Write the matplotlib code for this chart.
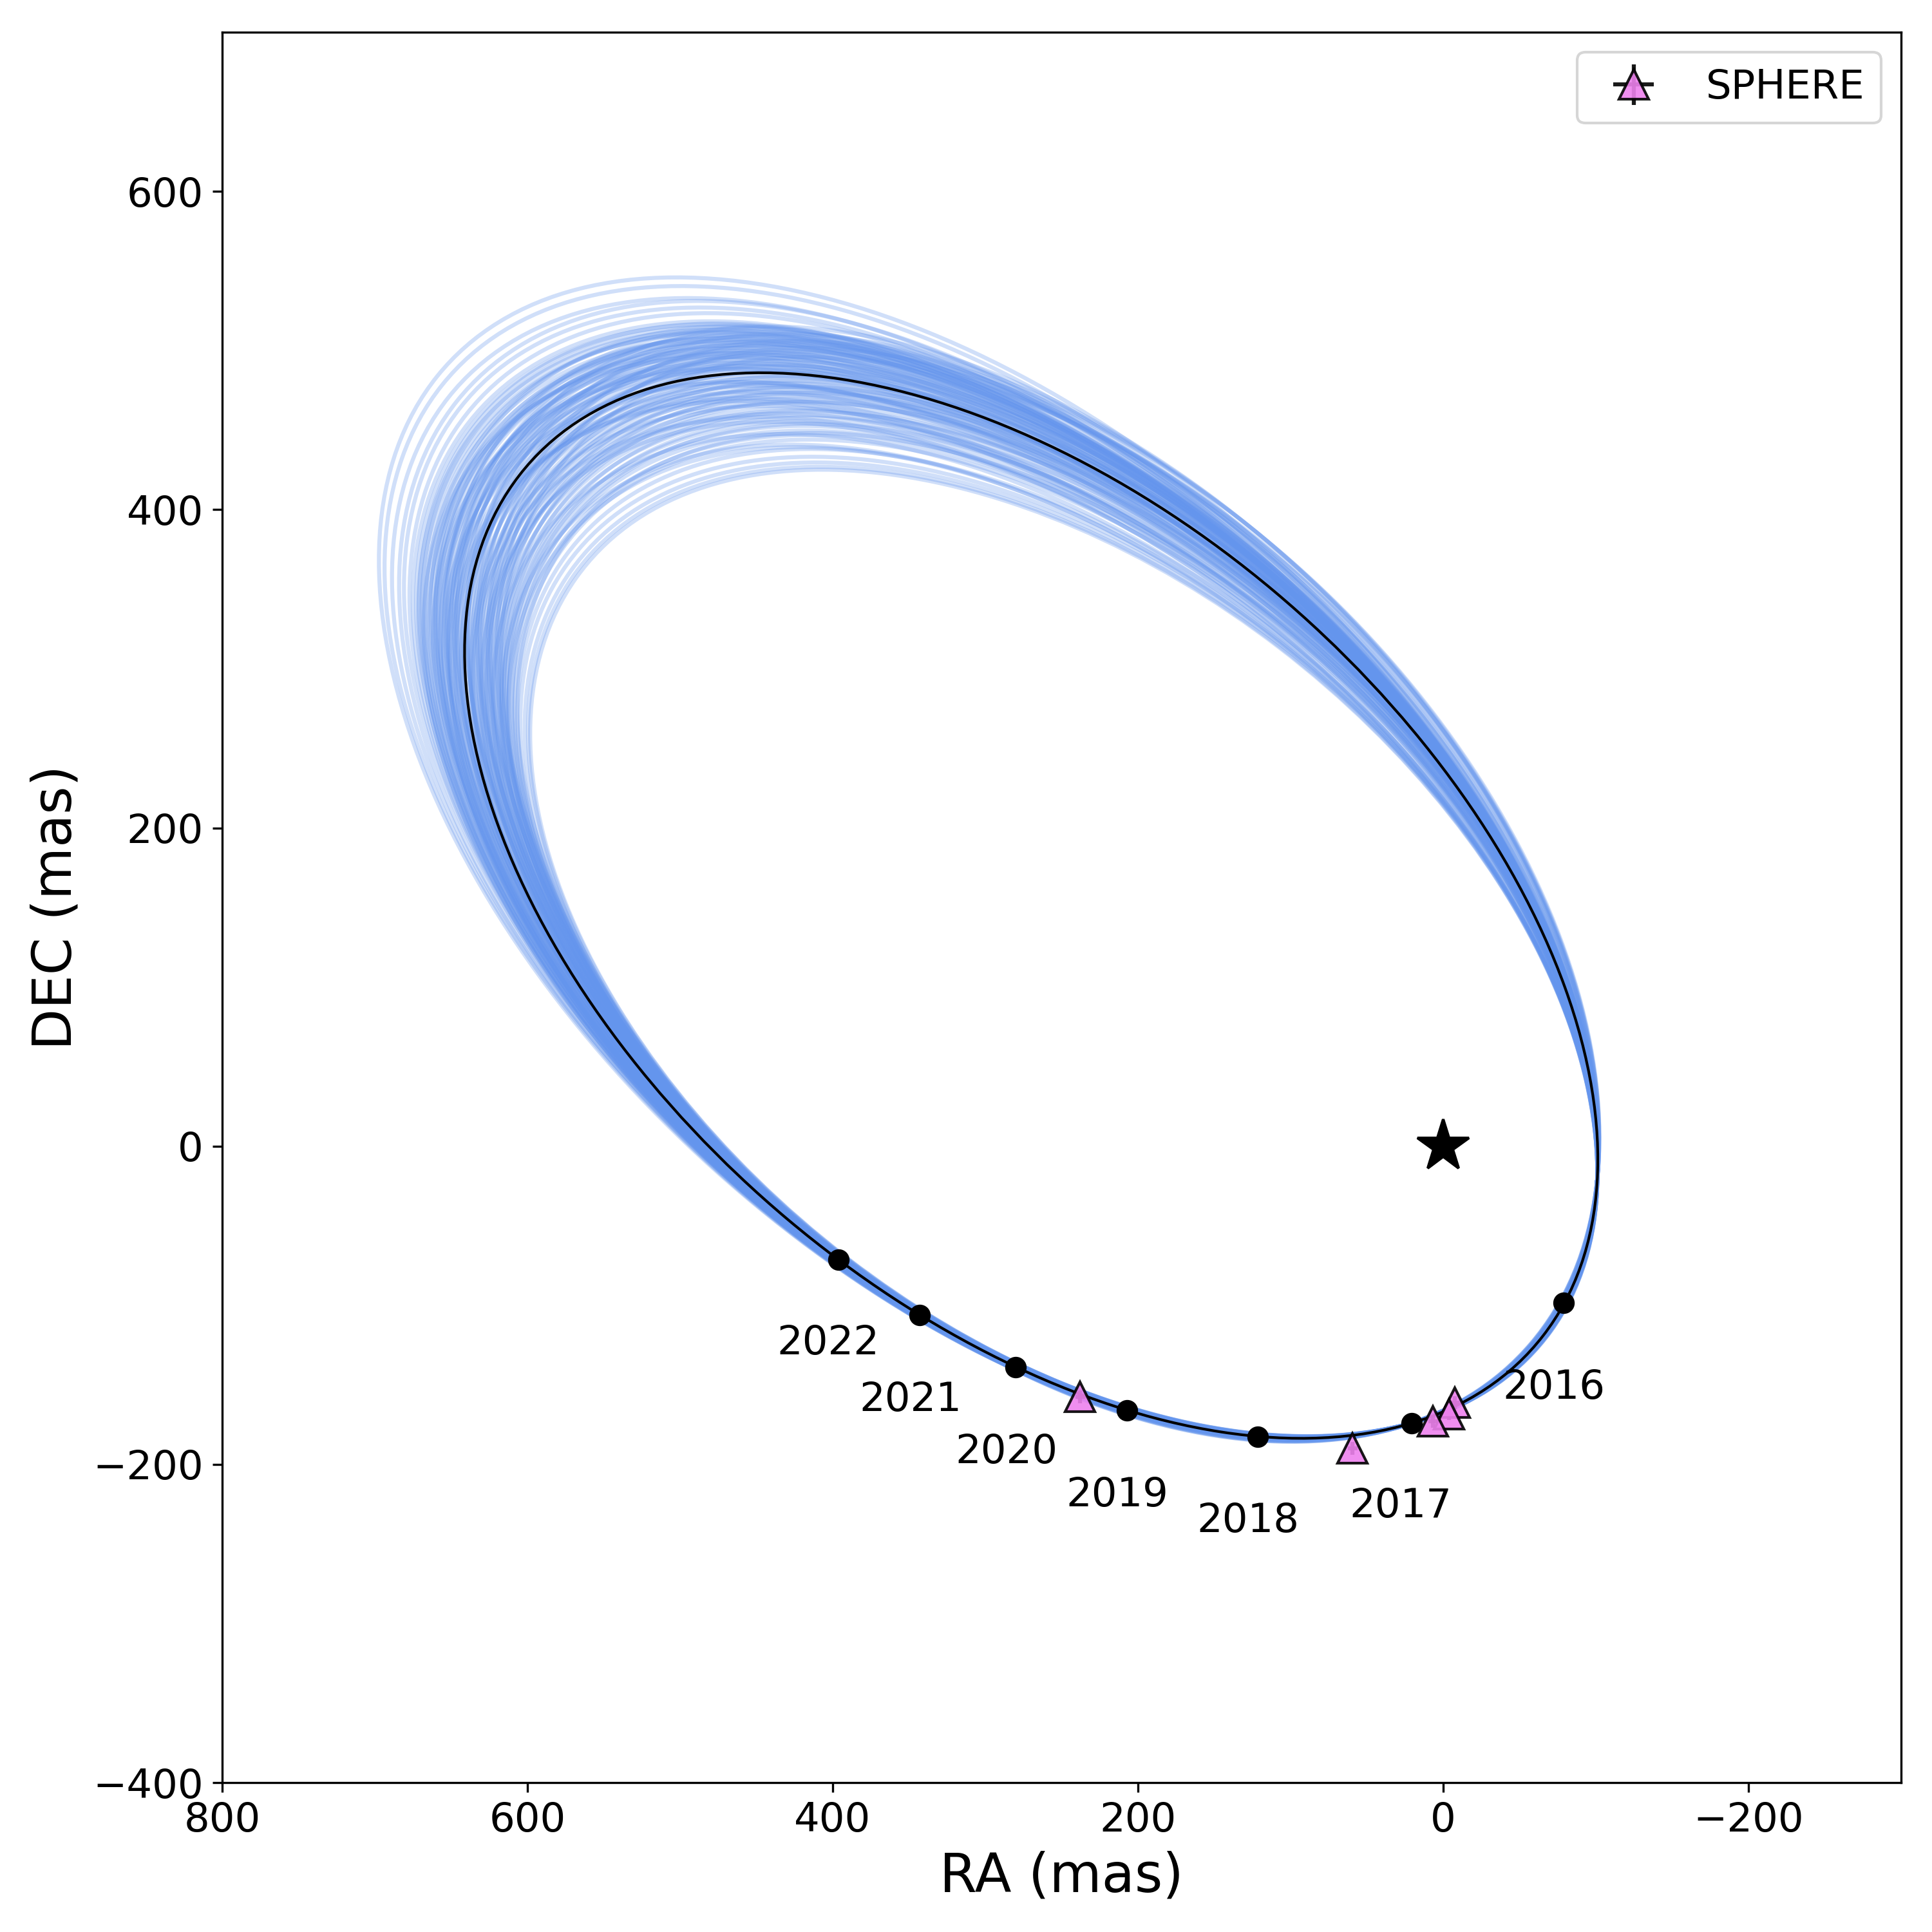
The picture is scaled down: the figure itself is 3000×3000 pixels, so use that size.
import numpy as np
import matplotlib
matplotlib.use("Agg")
import matplotlib.pyplot as plt
from matplotlib.patches import Ellipse

# Points every drawn orbit shares (RA, DEC in mas); the last one shifts in DEC per orbit
anchor_ra = [-101.0, 20.5, 396.0]
anchor_dec = [-20.0, -174.0, -71.5]
# Reference lines on which each orbit was read
left_dec_ref = 320.0
top_ra_ref = 450.0
# Best-fit orbit readings
best_left_ra = 641.0
best_top_dec = 486.0
best_low_shift = 0.0
# Sampled orbit readings: RA where DEC = left_dec_ref, DEC where RA = top_ra_ref,
# and DEC shift at the last anchor
orbit_left_ra = [693, 690, 686, 682, 679, 676, 674, 672, 671, 670,
                 669, 668, 667, 666, 664, 663, 662, 661, 660, 659,
                 658, 657, 656, 655, 654, 653, 652, 651, 650, 649,
                 648, 647, 646, 645, 644, 643, 642, 640, 639, 638,
                 637, 636, 635, 634, 633, 632, 631, 630, 629, 628,
                 627, 626, 625, 624, 623, 622, 621, 620, 619, 618,
                 617, 616, 615, 614, 613, 612, 611, 610, 609, 608,
                 606, 605, 603, 602, 600, 597, 593, 590, 588, 652,
                 647, 636, 643, 628, 634, 619, 657, 625, 641, 612,
                 650, 607, 668, 662, 655, 648, 640, 633, 626, 620,
                 665, 659, 653, 646, 639, 631, 624, 617, 660, 652]
orbit_top_dec = [542, 537, 530, 529, 525, 522, 517, 515, 512, 516,
                 510, 514, 507, 511, 505, 512, 508, 501, 506, 503,
                 509, 498, 505, 500, 510, 496, 503, 494, 507, 499,
                 492, 504, 497, 490, 502, 488, 495, 484, 500, 491,
                 481, 497, 486, 478, 493, 483, 475, 490, 479, 472,
                 487, 476, 469, 483, 473, 466, 480, 470, 463, 476,
                 467, 461, 472, 458, 466, 454, 460, 451, 456, 448,
                 452, 445, 442, 446, 436, 431, 427, 424, 422, 480,
                 470, 465, 474, 455, 458, 447, 490, 460, 478, 440,
                 468, 438, 495, 488, 480, 512, 515, 510, 505, 500,
                 498, 492, 514, 509, 506, 503, 498, 494, 515, 488]
orbit_low_shift = [-5.2, -4.6, -3.9, -5.2, -3.2, -4.6, -3.9, -2.6, -4.6, -3.2,
                   -3.9, -2.0, -4.6, -2.6, -3.2, -1.3, -3.9, -2.0, -2.6, -3.2,
                   -1.3, -3.2, -2.0, -2.6, -0.6, -3.2, -1.3, -2.6, -0.6, -2.0,
                   -2.6, 0.0, -1.3, -2.0, 0.6, -2.0, -0.6, -1.3, 0.6, -0.6,
                   -1.3, 1.3, 0.0, -0.6, 1.3, 0.0, -1.3, 2.0, 0.6, -0.6,
                   2.0, 0.6, 0.0, 2.0, 1.3, 0.0, 2.6, 1.3, 0.0, 2.6,
                   2.0, 0.6, 2.6, 1.3, 2.6, 1.3, 2.6, 2.0, 3.2, 2.6,
                   3.9, 3.2, 3.2, 4.6, 3.9, 4.6, 4.6, 5.2, 5.2, -2.0,
                   -0.6, 0.6, 0.0, 2.0, 1.3, 2.6, -2.6, 2.0, 0.0, 3.2,
                   -1.3, 3.9, -3.9, -3.2, -2.6, -1.3, 0.6, 1.3, 2.0, 2.0,
                   -3.9, -2.6, -2.0, -0.6, 0.0, 0.6, 1.3, 2.0, -2.0, -1.3]
# Observed epochs
year_ra = [-79, 20.5, 121.5, 207, 280, 343, 396]
year_dec = [-98.6, -174, -182.5, -166, -139, -106, -71.5]
year_names = ["2016", "2017", "2018", "2019", "2020", "2021", "2022"]
year_label_ra = [-72.4, 27.8, 128, 213.6, 286, 349, 403]
year_label_dec = [-152, -226.4, -235.5, -219.5, -192.5, -159.5, -124.1]
# SPHERE astrometry
sphere_ra = [-7.7, -3.7, 6.8, 59.3, 237.8]
sphere_dec = [-161.3, -168.3, -173, -190, -157.5]
sphere_ra_err = [3, 3, 3, 3, 3]
sphere_dec_err = [4, 4, 4, 4, 4]


def ellipse_from(left_ra, top_dec, low_shift):
    xs = np.array(anchor_ra + [left_ra, top_ra_ref])
    ys = np.array(anchor_dec + [left_dec_ref, top_dec])
    ys[2] += low_shift
    sx, sy = xs / 500.0, ys / 500.0
    m = np.column_stack([sx**2, sx * sy, sy**2, sx, sy, np.ones(5)])
    a, b, c, d, e, f = np.linalg.svd(m)[2][-1]
    q = np.array([[a, b / 2], [b / 2, c]])
    centre = np.linalg.solve(2 * q, [-d, -e])
    k = a * centre[0]**2 + b * centre[0] * centre[1] + c * centre[1]**2 + d * centre[0] + e * centre[1] + f
    vals, vecs = np.linalg.eigh(q)
    radii = np.sqrt(-k / vals) * 500.0
    angle = np.degrees(np.arctan2(vecs[1, 0], vecs[0, 0]))
    return centre * 500.0, 2 * radii[0], 2 * radii[1], angle


fig, ax = plt.subplots(figsize=(10, 10), dpi=300)
fig.subplots_adjust(left=0.115, right=0.984, top=0.9833, bottom=0.0773)

for lr, td, ls in zip(orbit_left_ra, orbit_top_dec, orbit_low_shift):
    c, w, h, ang = ellipse_from(lr, td, ls)
    ax.add_patch(Ellipse(c, w, h, angle=ang, fill=False, edgecolor="cornflowerblue", alpha=0.3, lw=1.5, zorder=1))

c, w, h, ang = ellipse_from(best_left_ra, best_top_dec, best_low_shift)
ax.add_patch(Ellipse(c, w, h, angle=ang, fill=False, edgecolor="k", lw=1.0, zorder=2))

ax.plot(year_ra, year_dec, "o", color="k", ms=7, zorder=3)
for t, x, y in zip(year_names, year_label_ra, year_label_dec):
    ax.text(x, y, t, fontsize=15, ha="center", va="center")

ax.errorbar(sphere_ra, sphere_dec, xerr=sphere_ra_err, yerr=sphere_dec_err, fmt="^", color="k",
            ecolor="k", mfc="violet", mec="k", ms=11, mew=1, alpha=0.9, ls="none",
            label="SPHERE", zorder=4)
ax.plot([0], [0], "*", color="k", ms=20, zorder=5)

ax.set_xlim(800, -300)
ax.set_ylim(-400, 700)
ax.set_xticks([800, 600, 400, 200, 0, -200])
ax.set_yticks([-400, -200, 0, 200, 400, 600])
ax.tick_params(labelsize=15)
ax.set_xlabel("RA (mas)", fontsize=20)
ax.set_ylabel("DEC (mas)", fontsize=20)
ax.legend(loc="upper right", fontsize=15)
fig.savefig("out.png", dpi=300)
